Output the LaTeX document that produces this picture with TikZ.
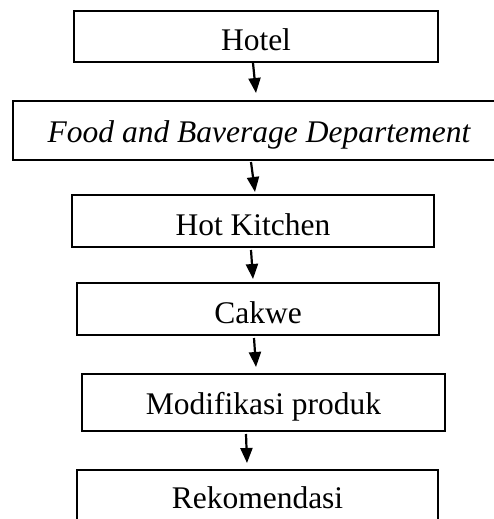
\documentclass[tikz,border=0pt]{standalone}
\usepackage{fontspec}
\setmainfont{Liberation Serif}
\usetikzlibrary{arrows.meta}
\begin{document}
\begin{tikzpicture}[x=1pt,y=-1pt,
  box/.style={draw=black, line width=2.2pt, rectangle, inner sep=0pt, outer sep=0pt,
    text depth=0pt, font=\fontsize{31.5}{36}\selectfont},
  arr/.style={line width=2.2pt, -{Triangle[length=15pt,width=12pt]}}]
\useasboundingbox (0,0) rectangle (494,519);
\clip (0,0) rectangle (494,519);
\fill[white] (0,0) rectangle (494,519);
\node[box, minimum width=364pt, minimum height=51pt, text height=29pt] (hotel) at (256,36.5) {Hotel};
\node[box, minimum width=492pt, minimum height=59pt, text height=23pt] (fb) at (259,130.5) {\itshape Food and Baverage Departement};
\node[box, minimum width=362pt, minimum height=52pt, text height=29.4pt] (hk) at (253,221) {Hot Kitchen};
\node[box, minimum width=362pt, minimum height=52pt, text height=28pt] (ck) at (258,309) {Cakwe};
\node[box, minimum width=363pt, minimum height=57pt, text height=23pt] (mp) at (263.5,402.5) {Modifikasi produk};
\node[box, minimum width=361pt, minimum height=75pt, text height=1pt] (rk) at (257.5,507.5) {Rekomendasi};
\draw[arr] ([xshift=-3pt,yshift=-1pt]hotel.south) -- ([xshift=-3pt,yshift=8pt]fb.north);
\draw[arr] ([xshift=-8pt,yshift=-2pt]fb.south) -- ([xshift=2pt,yshift=3pt]hk.north);
\draw[arr] ([xshift=-2pt,yshift=-3pt]hk.south) -- ([xshift=-5pt,yshift=4pt]ck.north);
\draw[arr] ([xshift=-4pt,yshift=-3pt]ck.south) -- ([xshift=-7.5pt,yshift=7pt]mp.north);
\draw[arr] ([xshift=-17.5pt,yshift=-3pt]mp.south) -- ([xshift=-10.5pt,yshift=7pt]rk.north);
\end{tikzpicture}
\end{document}
